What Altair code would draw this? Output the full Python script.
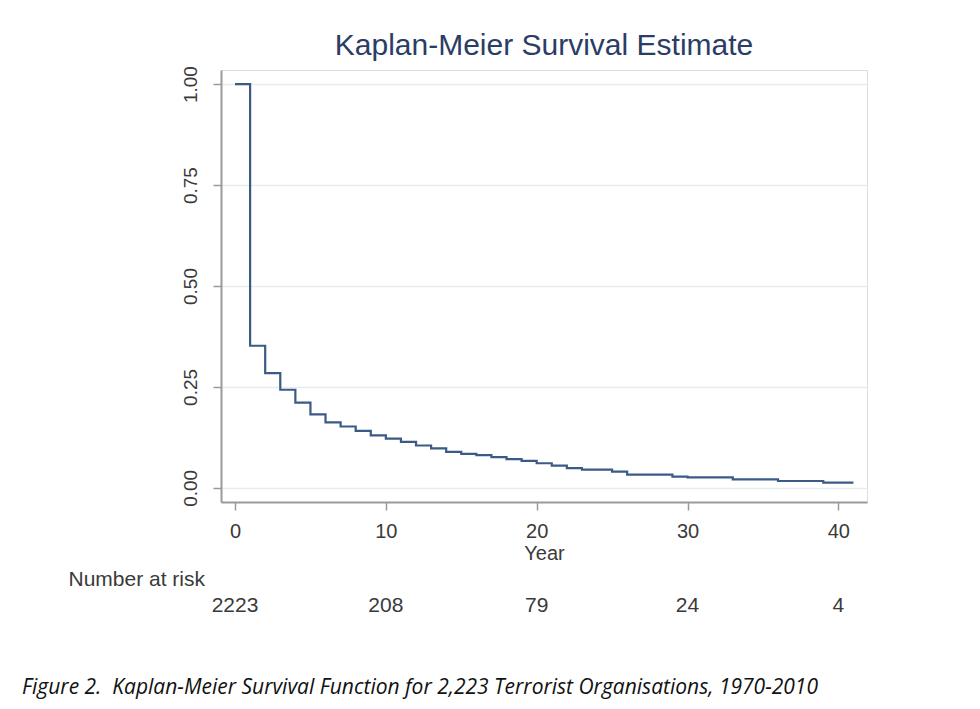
import altair as alt
import pandas as pd

# Kaplan-Meier step curve
km_time = [0, 1, 2, 3, 4, 5, 6, 7, 8, 9, 10, 11, 12, 13, 14, 15, 16, 17, 18, 19,
           20, 21, 22, 23, 25, 26, 29, 30, 33, 36, 39, 41]
km_surv = [1.0, 0.352, 0.284, 0.243, 0.211, 0.182, 0.162, 0.152, 0.141, 0.130,
           0.122, 0.114, 0.105, 0.098, 0.089, 0.084, 0.081, 0.076, 0.071, 0.067,
           0.061, 0.055, 0.049, 0.045, 0.040, 0.033, 0.028, 0.026, 0.021, 0.017,
           0.013, 0.013]

# Number at risk table
risk_time = [0, 10, 20, 30, 40]
risk_n = ["2223", "208", "79", "24", "4"]

y_ticks = [0, 0.25, 0.5, 0.75, 1.0]
x_ticks = [0, 10, 20, 30, 40]

title_text = "Kaplan-Meier Survival Estimate"
risk_label = ["Number at risk"]
caption = ["Figure 2.\u00a0 Kaplan-Meier Survival Function for 2,223 Terrorist Organisations, 1970-2010"]

W, H = 646, 432
FONT = "Liberation Sans"
TXT = "#3a3a3a"
LINE = "#3b5a85"

km = pd.DataFrame({"t": km_time, "s": km_surv})
risk = pd.DataFrame({"t": risk_time, "n": risk_n})

xscale = alt.Scale(domain=[-0.93, 41.9], nice=False, zero=False)
yscale = alt.Scale(domain=[-0.035, 1.035], nice=False, zero=False)

curve = alt.Chart(km).mark_line(
    interpolate="step-after", color=LINE, strokeWidth=2.2
).encode(
    x=alt.X("t:Q", scale=xscale, title="Year",
            axis=alt.Axis(values=x_ticks, format="d", grid=False,
                          domainColor="#9a9a9a", domainWidth=2,
                          tickColor="#9a9a9a", tickWidth=1.5, tickSize=8,
                          labelFont=FONT, labelFontSize=20, labelColor=TXT,
                          labelPadding=11, titleFont=FONT, titleFontSize=20,
                          titleFontWeight="normal", titleColor=TXT,
                          titlePadding=2)),
    y=alt.Y("s:Q", scale=yscale, title=None,
            axis=alt.Axis(values=y_ticks, format=".2f", grid=True,
                          gridColor="#e6eded", gridWidth=1.5,
                          domainColor="#9a9a9a", domainWidth=2,
                          tickColor="#9a9a9a", tickWidth=1.5, tickSize=8,
                          labelAngle=270, labelAlign="center",
                          labelBaseline="bottom",
                          labelFont=FONT, labelFontSize=19, labelColor=TXT,
                          labelPadding=13)),
)

risk_text = alt.Chart(risk).mark_text(
    font=FONT, fontSize=21, color=TXT, baseline="middle", align="center"
).encode(
    x=alt.X("t:Q", scale=xscale),
    y=alt.value(536),
    text="n:N",
)

risk_title = alt.Chart(pd.DataFrame({"label": risk_label})).mark_text(
    font=FONT, fontSize=21, color=TXT, baseline="middle", align="right"
).encode(
    x=alt.value(-16),
    y=alt.value(510),
    text="label:N",
)

cap = alt.Chart(pd.DataFrame({"label": caption})).mark_text(
    font="Open Sans", fontStyle="italic", fontSize=21, color="#111111",
    baseline="middle", align="left"
).encode(
    x=alt.value(-199),
    y=alt.value(618),
    text="label:N",
)

chart = alt.layer(curve, risk_text, risk_title, cap).properties(
    width=W,
    height=H,
    title=alt.TitleParams(title_text, font=FONT, fontSize=30,
                          fontWeight="normal", color="#2b3d64",
                          anchor="middle", frame="group", offset=5),
    autosize=alt.AutoSizeParams(type="none"),
    padding={"left": 213, "top": 62, "right": 100, "bottom": 220},
).configure_view(stroke=None).configure(background="white")

chart.save("out.html", embed_options={"renderer": "svg", "actions": False})
